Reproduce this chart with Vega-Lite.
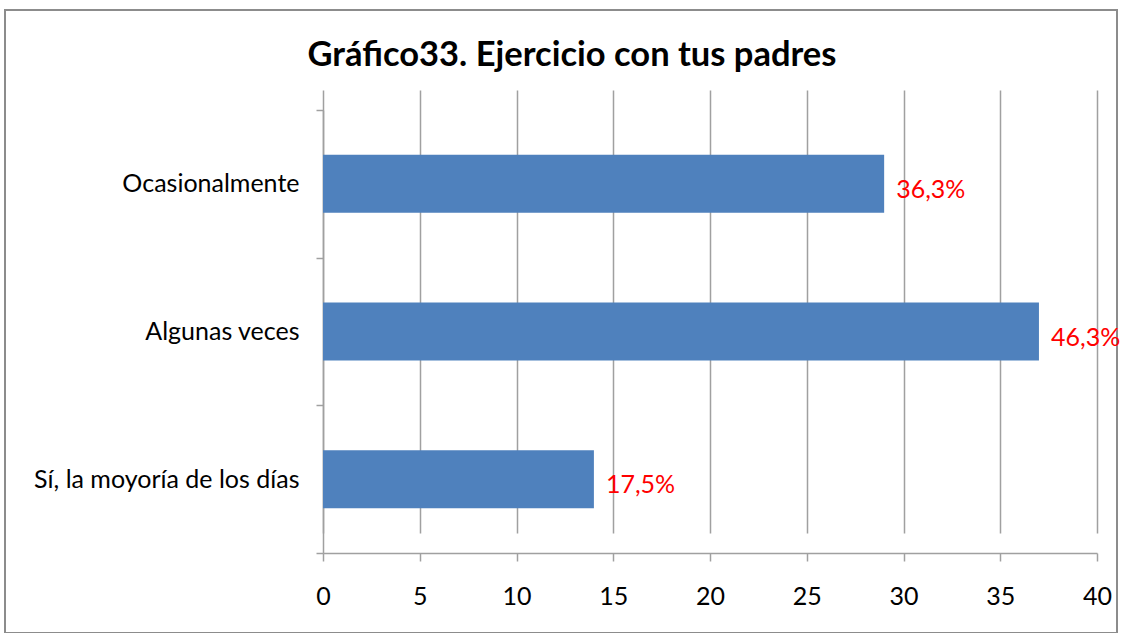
{
  "$schema": "https://vega.github.io/schema/vega-lite/v6.json",
  "width": 1112,
  "height": 623,
  "autosize": {"type": "none"},
  "padding": {"left": 5, "top": 10, "right": 14, "bottom": 0},
  "background": "white",
  "title": {
    "text": "Gráfico33. Ejercicio con tus padres",
    "font": "Lato",
    "fontSize": 34.5,
    "fontWeight": "bold",
    "color": "#000000",
    "anchor": "middle",
    "frame": "group",
    "offset": 0,
    "baseline": "alphabetic",
    "dy": 102,
    "dx": 11
  },
  "data": {
    "values": [
      {"categoria": "Ocasionalmente", "valor": 29, "etiqueta": "36,3%"},
      {"categoria": "Algunas veces", "valor": 37, "etiqueta": "46,3%"},
      {"categoria": "Sí, la moyoría de los días", "valor": 14, "etiqueta": "17,5%"}
    ]
  },
  "encoding": {
    "y": {
      "field": "categoria",
      "type": "nominal",
      "sort": null,
      "scale": {"range": [100, 543], "paddingInner": 0, "paddingOuter": 0},
      "axis": {
        "title": null,
        "offset": -318,
        "grid": false,
        "domain": true,
        "domainColor": "#A0A0A0",
        "domainWidth": 1.5,
        "ticks": true,
        "tickBand": "extent",
        "tickColor": "#A0A0A0",
        "tickWidth": 1.5,
        "tickSize": 7,
        "labelPadding": 17,
        "labelFont": "Lato",
        "labelFontSize": 25,
        "labelColor": "#000000",
        "labelLimit": 0
      }
    },
    "x": {
      "field": "valor",
      "type": "quantitative",
      "scale": {"domain": [0, 40], "range": [318, 1092], "nice": false, "zero": true},
      "axis": {
        "title": null,
        "offset": -80,
        "values": [0, 5, 10, 15, 20, 25, 30, 35, 40],
        "grid": true,
        "gridColor": "#A0A0A0",
        "gridWidth": 1.5,
        "domain": true,
        "domainColor": "#A0A0A0",
        "domainWidth": 1.5,
        "tickColor": "#A0A0A0",
        "tickWidth": 1.5,
        "tickSize": 8,
        "labelPadding": 23,
        "labelFont": "Lato",
        "labelFontSize": 25,
        "labelColor": "#000000",
        "labelFlush": false
      }
    }
  },
  "layer": [
    {"mark": {"type": "bar", "color": "#4F81BD", "height": {"band": 0.393}}},
    {
      "mark": {"type": "text", "align": "left", "baseline": "middle", "dx": 12, "dy": 6, "color": "#FF0000", "font": "Lato", "fontSize": 25},
      "encoding": {"text": {"field": "etiqueta"}}
    }
  ],
  "config": {
    "view": {"stroke": "#8C8C8C", "strokeWidth": 2}
  }
}
